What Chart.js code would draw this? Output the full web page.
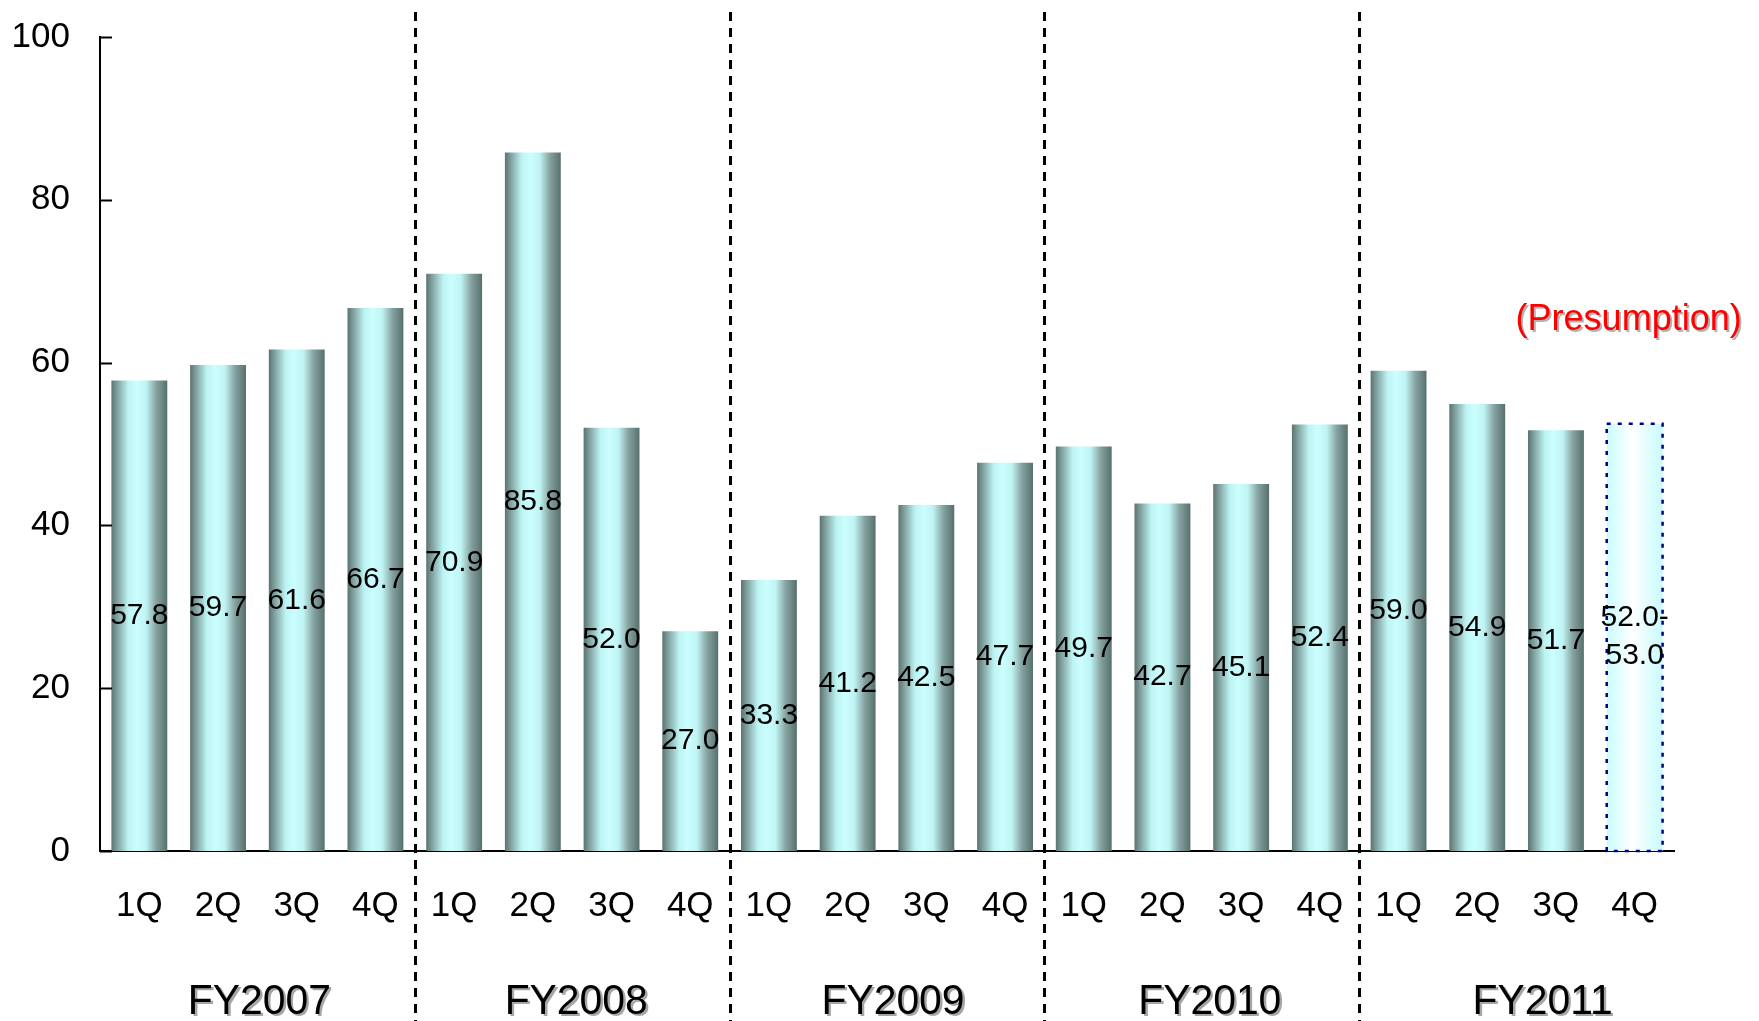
<!DOCTYPE html>
<html>
<head>
<meta charset="utf-8">
<title>Quarterly results FY2007–FY2011</title>
<script src="https://cdn.jsdelivr.net/npm/chart.js@4.4.1/dist/chart.umd.min.js"></script>
<style>
  html, body { margin: 0; padding: 0; background: #ffffff; }
  #wrap { position: relative; width: 1759px; height: 1021px; }
  canvas { display: block; }
</style>
</head>
<body>
<div id="wrap"><canvas id="c" width="1759" height="1021"></canvas></div>
<script>
// Fiscal years and quarters along the x axis
const fiscalYears = ['FY2007', 'FY2008', 'FY2009', 'FY2010', 'FY2011'];
const quarters = ['1Q', '2Q', '3Q', '4Q'];

// Actual quarterly values, one list per fiscal year
const fy2007 = [57.8, 59.7, 61.6, 66.7];
const fy2008 = [70.9, 85.8, 52.0, 27.0];
const fy2009 = [33.3, 41.2, 42.5, 47.7];
const fy2010 = [49.7, 42.7, 45.1, 52.4];
const fy2011 = [59.0, 54.9, 51.7];

// Presumed range for the last quarter
const presumptionLow = 52.0;
const presumptionHigh = 53.0;
const presumptionNote = '(Presumption)';

// Value axis ticks
const yTicks = [0, 20, 40, 60, 80, 100];

const FONT = '"Liberation Sans", Arial, Helvetica, sans-serif';
const BAR_PCT = 0.71;

const labels = [];
fiscalYears.forEach(() => quarters.forEach(q => labels.push(q)));
const actual = [...fy2007, ...fy2008, ...fy2009, ...fy2010, ...fy2011];
const presumedIndex = actual.length;
const values = actual.concat([(presumptionLow + presumptionHigh) / 2]);
const valueLabels = actual.map(v => v.toFixed(1))
  .concat([[presumptionLow.toFixed(1) + '-', presumptionHigh.toFixed(1)]]);

// Cylinder-like horizontal shading for each bar, computed from the x scale
function barFill(context) {
  const chart = context.chart;
  const xs = chart.scales.x;
  const fallback = '#a8dcdc';
  if (!xs || !chart.chartArea || typeof context.dataIndex !== 'number') return fallback;
  const cx = xs.getPixelForValue(context.dataIndex);
  const half = (xs.width / labels.length) * BAR_PCT / 2;
  if (!isFinite(cx) || !isFinite(half) || half <= 0) return fallback;
  const g = chart.ctx.createLinearGradient(cx - half, 0, cx + half, 0);
  if (context.dataIndex === presumedIndex) {
    g.addColorStop(0, '#c8fbff');
    g.addColorStop(0.45, '#ffffff');
    g.addColorStop(1, '#c8fbff');
  } else {
    g.addColorStop(0, '#5a7371');
    g.addColorStop(0.08, '#789694');
    g.addColorStop(0.3, '#bdf3f3');
    g.addColorStop(0.45, '#cbffff');
    g.addColorStop(0.62, '#c0f4f4');
    g.addColorStop(0.8, '#86a3a1');
    g.addColorStop(1, '#57706e');
  }
  return g;
}

// Dotted outline around the presumed bar
const presumedOutline = {
  id: 'presumedOutline',
  afterDatasetsDraw(chart) {
    const ctx = chart.ctx;
    const el = chart.getDatasetMeta(0).data[presumedIndex];
    if (!el) return;
    const l = el.x - el.width / 2, r = el.x + el.width / 2;
    ctx.save();
    ctx.strokeStyle = '#000080';
    ctx.lineWidth = 2.5;
    ctx.setLineDash([4, 7]);
    ctx.strokeRect(l, el.y, r - l, el.base - el.y);
    ctx.restore();
  }
};

// Axis ticks, year dividers, value labels and year captions
const decorations = {
  id: 'decorations',
  afterDraw(chart) {
    const ctx = chart.ctx;
    const x = chart.scales.x, y = chart.scales.y;
    const area = chart.chartArea;
    ctx.save();

    // inward tick marks on the value axis
    ctx.strokeStyle = '#000';
    ctx.lineWidth = 2;
    yTicks.forEach(v => {
      const py = Math.round(y.getPixelForValue(v)) + 0.5;
      ctx.beginPath();
      ctx.moveTo(area.left, py);
      ctx.lineTo(area.left + 12, py);
      ctx.stroke();
    });

    // dashed separators between fiscal years
    ctx.lineWidth = 3;
    ctx.setLineDash([9, 7]);
    for (let k = 1; k < fiscalYears.length; k++) {
      const a = x.getPixelForValue(k * 4 - 1), b = x.getPixelForValue(k * 4);
      const px = Math.round((a + b) / 2) + 0.5;
      ctx.beginPath();
      ctx.moveTo(px, 12);
      ctx.lineTo(px, chart.height);
      ctx.stroke();
    }
    ctx.setLineDash([]);

    // values inside the bars
    ctx.fillStyle = '#000';
    ctx.font = '30px ' + FONT;
    ctx.textAlign = 'center';
    ctx.textBaseline = 'middle';
    chart.getDatasetMeta(0).data.forEach((el, i) => {
      const mid = (el.y + el.base) / 2;
      const t = valueLabels[i];
      if (Array.isArray(t)) {
        ctx.fillText(t[0], el.x, mid - 20);
        ctx.fillText(t[1], el.x, mid + 18);
      } else {
        ctx.fillText(t, el.x, mid);
      }
    });

    // fiscal year captions under each group of quarters
    // (the last caption sits a little right of its group centre)
    ctx.font = '43px ' + FONT;
    fiscalYears.forEach((fy, k) => {
      const groupMid = (x.getPixelForValue(k * 4) + x.getPixelForValue(k * 4 + 3)) / 2;
      const nudge = k === fiscalYears.length - 1 ? 26 : 2 + k * 2;
      ctx.save();
      ctx.translate(groupMid + nudge, 1002);
      ctx.scale(0.95, 1);
      ctx.fillStyle = 'rgba(0,0,0,0.35)';
      ctx.fillText(fy, 2.5, 2.5);
      ctx.fillStyle = '#000';
      ctx.fillText(fy, 0, 0);
      ctx.restore();
    });

    // note over the presumed quarter
    const pe = chart.getDatasetMeta(0).data[presumedIndex];
    if (pe) {
      ctx.font = '36px ' + FONT;
      ctx.fillStyle = 'rgba(0,0,0,0.3)';
      ctx.fillText(presumptionNote, pe.x - 6 + 2, 320 + 2);
      ctx.fillStyle = '#ff0000';
      ctx.fillText(presumptionNote, pe.x - 6, 320);
    }
    ctx.restore();
  }
};

new Chart(document.getElementById('c'), {
  type: 'bar',
  data: {
    labels: labels,
    datasets: [{
      data: values,
      backgroundColor: barFill,
      borderWidth: 0,
      barPercentage: BAR_PCT,
      categoryPercentage: 1.0
    }]
  },
  options: {
    responsive: false,
    animation: false,
    events: [],
    layout: { padding: { left: 0, right: 85, top: 37, bottom: 0 } },
    plugins: { legend: { display: false }, tooltip: { enabled: false } },
    scales: {
      x: {
        offset: true,
        grid: { display: false, drawTicks: false },
        border: { display: true, color: '#000', width: 2 },
        ticks: { color: '#000', font: { family: FONT, size: 35 }, padding: 34, maxRotation: 0, autoSkip: false },
        afterFit(s) { s.height = 170; s.paddingLeft = 0; s.paddingRight = 0; }
      },
      y: {
        min: 0,
        max: 100,
        grid: { display: false, drawTicks: false },
        border: { display: true, color: '#000', width: 2 },
        ticks: { stepSize: 20, color: '#000', font: { family: FONT, size: 35 }, padding: 30 },
        afterFit(s) { s.width = 100; s.paddingTop = 0; s.paddingBottom = 0; }
      }
    }
  },
  plugins: [presumedOutline, decorations]
});
</script>
</body>
</html>
